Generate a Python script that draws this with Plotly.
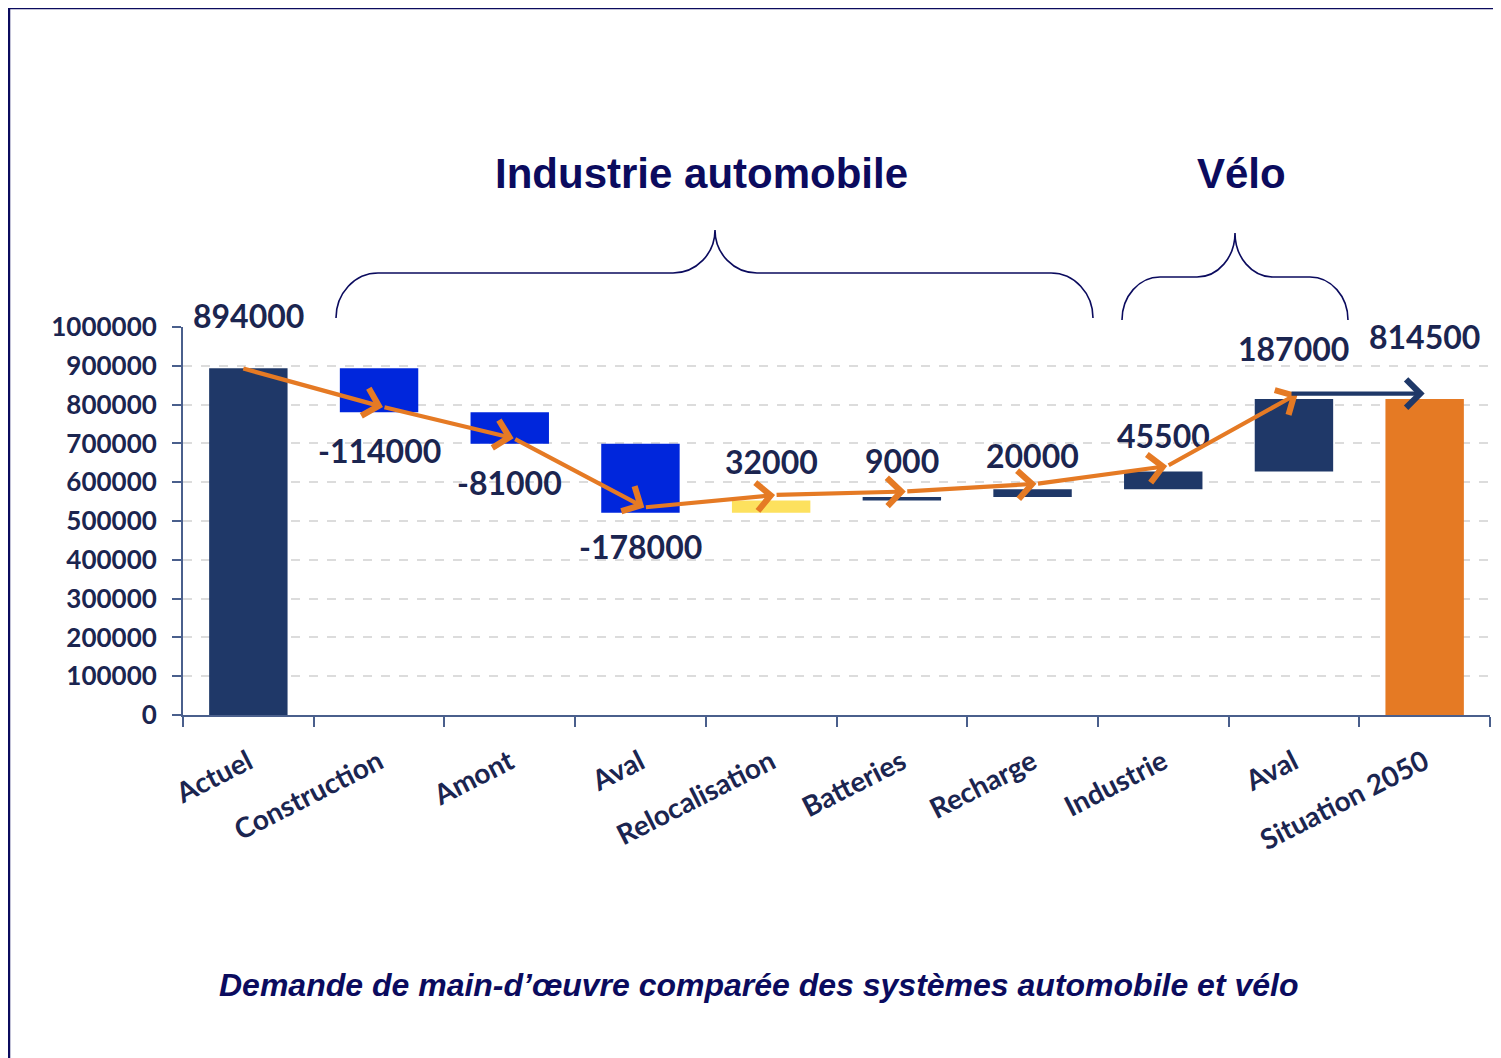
import plotly.graph_objects as go

# data
categories = ["Actuel", "Construction", "Amont", "Aval", "Relocalisation",
              "Batteries", "Recharge", "Industrie", "Aval", "Situation 2050"]
values = [894000, -114000, -81000, -178000, 32000, 9000, 20000, 45500, 187000, 814500]
is_total = [True, False, False, False, False, False, False, False, False, True]
y_ticks = [0, 100000, 200000, 300000, 400000, 500000, 600000, 700000, 800000, 900000, 1000000]

NAVY = "#1f3868"
BLUE = "#0026dc"
YELLOW = "#fde15e"
ORANGE = "#e57a24"
TEXT = "#1b2550"
TITLE = "#0b0b5e"
AXIS = "#4a5f8c"

bar_colors = [NAVY, BLUE, BLUE, BLUE, YELLOW, NAVY, NAVY, NAVY, NAVY, ORANGE]
label_offsets = [53, -38, -39, -34, 39, 36, 34, 36, 50, 62]  # px from bar end

# page is 1501 x 1058, the html body adds an 8px margin
OFF = 8
W, H = 1501 - 2 * OFF, 1058 - OFF
# plot area in page pixels
L, R, T, B = 183, 1490, 327, 715


def px_x(p):
    return (p - L) / (R - L)


def px_y(p):
    return (B - p) / (B - T)


# waterfall geometry
xs = list(range(len(categories)))
bases, heights, ends, levels = [], [], [], []
running = 0
for v, tot in zip(values, is_total):
    if tot:
        bases.append(0)
        heights.append(v)
        running = v
    else:
        bases.append(running)
        heights.append(v)
        running += v
    ends.append(bases[-1] + heights[-1])
    levels.append(running)

fig = go.Figure()
fig.add_trace(go.Bar(
    x=xs, y=heights, base=bases,
    marker=dict(color=bar_colors, line=dict(width=0)),
    width=0.6,
    hoverinfo="skip",
    showlegend=False,
))

annotations = []

# value labels
for i, v in enumerate(values):
    annotations.append(dict(
        x=xs[i], y=ends[i], xref="x", yref="y",
        text=str(v), showarrow=False,
        yshift=label_offsets[i], yanchor="middle",
        font=dict(family="Lato", size=32, color=TEXT, weight=700),
    ))

# orange path arrows through the running levels
lift = 14000
pts = [(xs[0] - 0.05, values[0])] + [(xs[i] + 0.03, levels[i] + lift) for i in range(1, len(values) - 1)]
for (x0, y0), (x1, y1) in zip(pts[:-1], pts[1:]):
    annotations.append(dict(
        x=x1, y=y1, ax=x0, ay=y0, xref="x", yref="y", axref="x", ayref="y",
        text="", showarrow=True, arrowhead=4, arrowsize=1.3, arrowwidth=4.2,
        arrowcolor=ORANGE, standoff=0, startstandoff=0,
    ))
# navy arrow to the final situation
annotations.append(dict(
    x=xs[-1], y=pts[-1][1], ax=pts[-1][0] - 0.06, ay=pts[-1][1],
    xref="x", yref="y", axref="x", ayref="y",
    text="", showarrow=True, arrowhead=4, arrowsize=1.3, arrowwidth=4.2,
    arrowcolor=NAVY, standoff=0, startstandoff=0,
))

# titles and caption
annotations.append(dict(x=px_x(701), y=px_y(173), xref="paper", yref="paper",
                        text="<b>Industrie automobile</b>", showarrow=False,
                        xanchor="center", yanchor="middle",
                        font=dict(family="Liberation Sans", size=42, color=TITLE)))
annotations.append(dict(x=px_x(1241), y=px_y(173), xref="paper", yref="paper",
                        text="<b>Vélo</b>", showarrow=False,
                        xanchor="center", yanchor="middle",
                        font=dict(family="Liberation Sans", size=42, color=TITLE)))
annotations.append(dict(x=px_x(758), y=px_y(985), xref="paper", yref="paper",
                        text="<b><i>Demande de main-d’œuvre comparée des systèmes automobile et vélo</i></b>",
                        showarrow=False, xanchor="center", yanchor="middle",
                        font=dict(family="Liberation Sans", size=32, color=TITLE)))


def brace(xl, xr, xp, yb, yh, yp, c, c2):
    k = 0.552
    h = yb - yh
    hp = yh - yp
    segs = [
        ("M", [(xl, yb)]),
        ("C", [(xl, yb - k * h), (xl + c - k * c, yh), (xl + c, yh)]),
        ("L", [(xp - c2, yh)]),
        ("C", [(xp - c2 + k * c2, yh), (xp, yp + k * hp), (xp, yp)]),
        ("C", [(xp, yp + k * hp), (xp + c2 - k * c2, yh), (xp + c2, yh)]),
        ("L", [(xr - c, yh)]),
        ("C", [(xr - c + k * c, yh), (xr, yb - k * h), (xr, yb)]),
    ]
    out = []
    for cmd, p in segs:
        out.append(cmd + " ".join(f"{px_x(a):.5f},{px_y(b):.5f}" for a, b in p))
    return " ".join(out)


shapes = [
    dict(type="path", xref="paper", yref="paper",
         path=brace(336, 1093, 715, 318, 273, 230, 42, 42),
         line=dict(color=TITLE, width=1.6)),
    dict(type="path", xref="paper", yref="paper",
         path=brace(1122, 1348, 1235, 320, 277, 233, 38, 38),
         line=dict(color=TITLE, width=1.6)),
    # frame (left and top edges)
    dict(type="path", xref="paper", yref="paper",
         path=f"M{px_x(9):.5f},{px_y(1070):.5f} L{px_x(9):.5f},{px_y(8):.5f} L{px_x(1510):.5f},{px_y(8):.5f}",
         line=dict(color=TITLE, width=2.5)),
]

fig.update_layout(
    width=W, height=H,
    margin=dict(l=L - OFF, r=W - (R - OFF), t=T - OFF, b=H - (B - OFF), pad=0),
    plot_bgcolor="white", paper_bgcolor="white",
    bargap=0.4,
    annotations=annotations,
    shapes=shapes,
    xaxis=dict(
        range=[-0.5, len(categories) - 0.5],
        tickvals=xs, ticktext=categories,
        tickangle=-27, ticks="", ticklabelstandoff=18,
        tickfont=dict(family="Lato", size=28, color=TEXT, weight=700),
        showgrid=False, zeroline=False,
        showline=True, linecolor=AXIS, linewidth=2,
        minor=dict(tickvals=[i - 0.5 for i in range(len(categories) + 1)],
                   ticks="outside", ticklen=10, tickwidth=2, tickcolor=AXIS,
                   showgrid=False),
    ),
    yaxis=dict(
        range=[0, 1000000],
        tickvals=y_ticks, tickformat="d",
        ticks="outside", ticklen=9, tickwidth=2, tickcolor=AXIS,
        ticklabelstandoff=10,
        tickfont=dict(family="Lato", size=26, color=TEXT, weight=700),
        showgrid=True, gridcolor="#dcdcdc", gridwidth=1.5, griddash="dash",
        zeroline=False,
        showline=True, linecolor=AXIS, linewidth=2,
    ),
)

fig.write_html("out.html")
